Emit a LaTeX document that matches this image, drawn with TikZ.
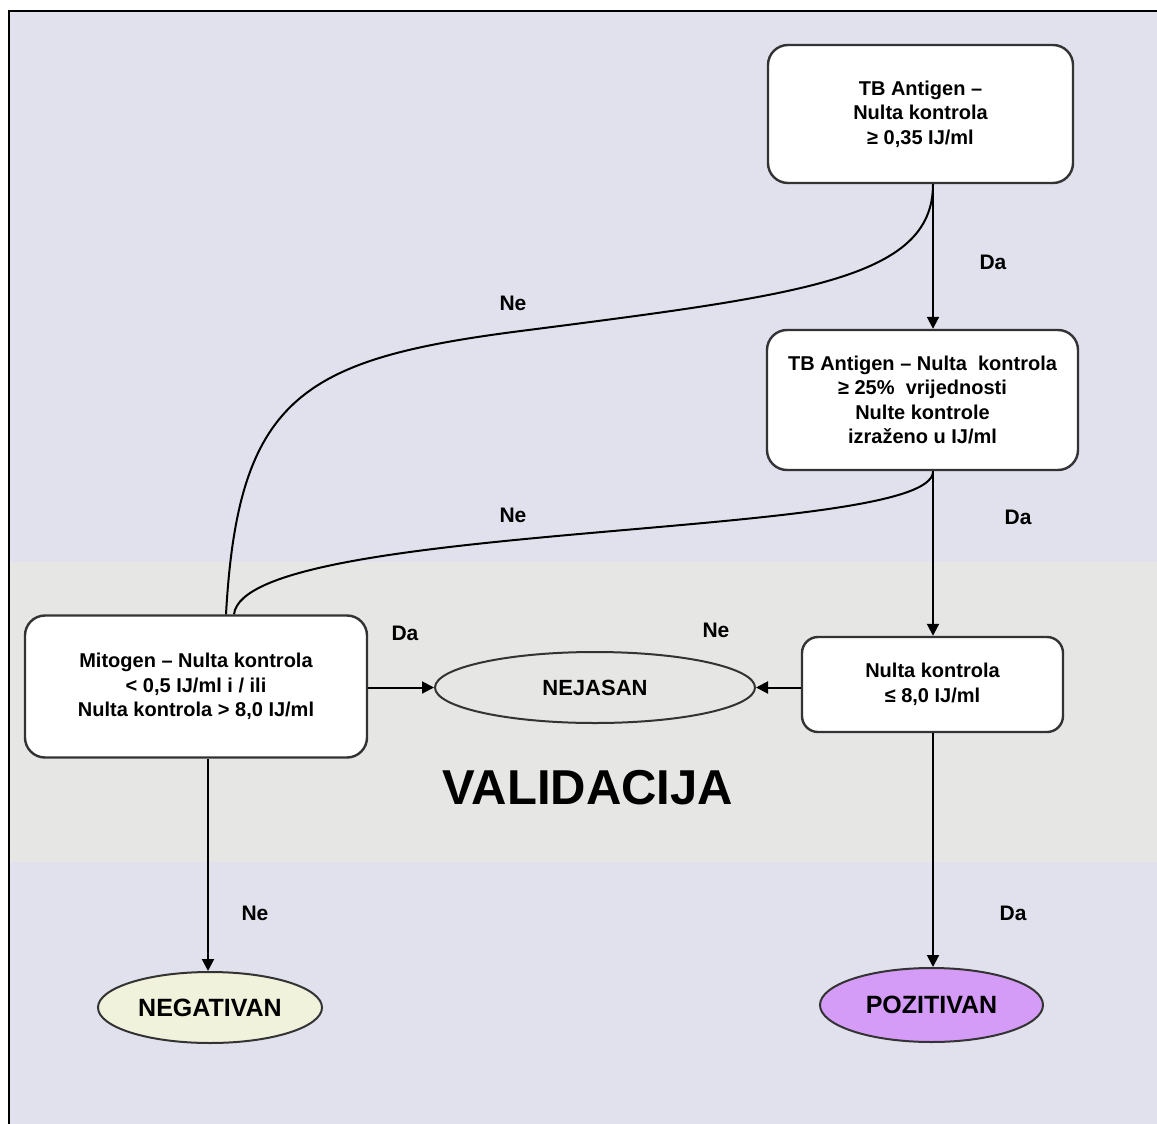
\documentclass[tikz,border=0pt]{standalone}
\usepackage{fontspec}
\setmainfont{Liberation Sans}
\usetikzlibrary{shapes.geometric,arrows.meta,calc}
\definecolor{bglav}{HTML}{E1E1EE}
\definecolor{bgband}{HTML}{E6E6E5}
\definecolor{negfill}{HTML}{F0F2DC}
\definecolor{posfill}{HTML}{D49CF6}
\definecolor{edgegray}{HTML}{333333}
\begin{document}
\begin{tikzpicture}[x=0.5pt,y=-0.5pt,
  box/.style={draw=edgegray,line width=1.2pt,fill=white,rounded corners=10pt,align=center,inner sep=0pt,
    font=\fontsize{10pt}{12.3pt}\selectfont\bfseries},
  oval/.style={draw=edgegray,line width=1pt,ellipse,inner sep=0pt,align=center},
  lbl/.style={font=\fontsize{10.5pt}{12pt}\selectfont\bfseries,inner sep=0pt},
  conn/.style={line width=1pt,black},
  arr/.style={conn,-{Triangle[length=6pt,width=6pt]}}]
\useasboundingbox (0,0) rectangle (1157,1124);
% background
\fill[white] (0,0) rectangle (1157,1124);
\fill[bglav] (9,11) rectangle (1157,1124);
\fill[bgband] (9,562) rectangle (1157,862);
\draw[line width=1pt,black] (9,1124) -- (9,11) -- (1157,11);
% nodes
\node[box,minimum width=152.5pt,minimum height=69pt] (b1) at (920.5,114) {TB Antigen –\\Nulta kontrola\\≥ 0,35 IJ/ml};
\node[box,minimum width=155.5pt,minimum height=70pt] (b2) at (922.5,400) {TB Antigen – Nulta\ \ kontrola\\≥ 25\%\ \ vrijednosti\\Nulte kontrole\\izraženo u IJ/ml};
\node[box,minimum width=171pt,minimum height=71pt] (b3) at (196,686.5) {Mitogen – Nulta kontrola\\< 0,5 IJ/ml i / ili\\Nulta kontrola > 8,0 IJ/ml};
\node[box,rounded corners=8pt,minimum width=130.5pt,minimum height=47.5pt] (b4) at (932.5,684.5) {Nulta kontrola\\≤ 8,0 IJ/ml};
\node[oval,minimum width=160pt,minimum height=35.5pt,font=\fontsize{11pt}{13pt}\selectfont\bfseries] (nej) at (595,687.5) {NEJASAN};
\node[oval,fill=negfill,minimum width=112pt,minimum height=35.5pt,font=\fontsize{12.5pt}{14pt}\selectfont\bfseries] (neg) at (210,1007.5) {NEGATIVAN};
\node[oval,fill=posfill,minimum width=111.5pt,minimum height=37pt,font=\fontsize{12.5pt}{14pt}\selectfont\bfseries] (pos) at (931.5,1005) {POZITIVAN};
\node[font=\fontsize{24.5pt}{28pt}\selectfont\bfseries,inner sep=0pt] (val) at (588,788) {VALIDACIJA};
% helper coordinates
\coordinate (vx) at (933,0);
\coordinate (lx) at (208,0);
\coordinate (c1x) at (226,0);
\coordinate (c2x) at (234,0);
\coordinate (m1) at (513,332);
% connectors
\draw[arr] (b1.south -| vx) -- (b2.north -| vx);
\draw[conn] (b1.south -| vx) .. controls (933,280) and (800,295) .. (m1)
  .. controls (300,360) and (238,400) .. (b3.north -| c1x);
\draw[conn] (b2.south -| vx) .. controls (935,540) and (245,520) .. (b3.north -| c2x);
\draw[arr] (b2.south -| vx) -- (b4.north -| vx);
\draw[arr] (b3.east |- nej) -- (nej.west);
\draw[arr] (b4.west |- nej) -- (nej.east);
\draw[arr] (b3.south -| lx) -- (neg.north -| lx);
\draw[arr] (b4.south -| vx) -- (pos.north -| vx);
% labels
\node[lbl] (l1) at (993,262) {Da};
\node[lbl] (l2) at (513,303) {Ne};
\node[lbl] (l3) at (513,515) {Ne};
\node[lbl] (l4) at (1018,517) {Da};
\node[lbl] (l5) at (405,633) {Da};
\node[lbl] (l6) at (716,630) {Ne};
\node[lbl] (l7) at (255,913) {Ne};
\node[lbl] (l8) at (1013,913) {Da};
\end{tikzpicture}
\end{document}
